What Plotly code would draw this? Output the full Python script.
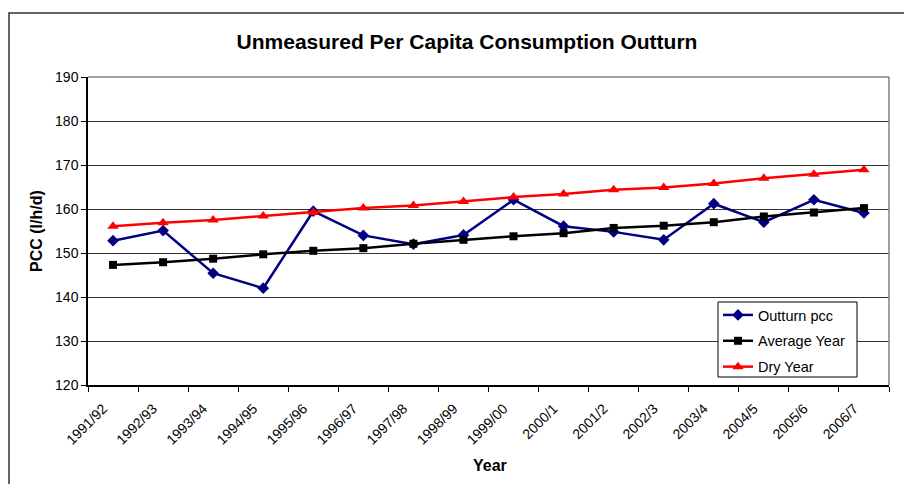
import plotly.graph_objects as go

years = ["1991/92", "1992/93", "1993/94", "1994/95", "1995/96", "1996/97", "1997/98",
         "1998/99", "1999/00", "2000/1", "2001/2", "2002/3", "2003/4", "2004/5",
         "2005/6", "2006/7"]
outturn = [152.8, 155.1, 145.4, 142.0, 159.5, 154.0, 152.0, 154.1, 162.1, 156.1,
           154.8, 153.0, 161.2, 157.0, 162.1, 159.1]
average_year = [147.3, 147.9, 148.7, 149.7, 150.5, 151.1, 152.1, 153.0, 153.8, 154.5,
                155.7, 156.2, 157.0, 158.3, 159.2, 160.2]
dry_year = [156.1, 156.9, 157.5, 158.4, 159.2, 160.2, 160.8, 161.7, 162.7, 163.4,
            164.4, 164.9, 165.8, 167.0, 167.9, 168.9]
y_ticks = [120, 130, 140, 150, 160, 170, 180, 190]

FONT = "Liberation Sans, Arial, sans-serif"
L, R, T, B = 88, 15, 77, 99
PW, PH = 904 - L - R, 484 - T - B


def px_x(px):
    return (px - L) / PW


def px_y(py):
    return (484 - B - py) / PH


fig = go.Figure()
fig.add_trace(go.Scatter(x=years, y=outturn, name="Outturn pcc", mode="lines+markers",
                         legendgroup="a",
                         line=dict(color="#000080", width=2.5),
                         marker=dict(symbol="diamond", size=9, color="#000080")))
fig.add_trace(go.Scatter(x=years, y=average_year, name="Average Year", mode="lines+markers",
                         legendgroup="b",
                         line=dict(color="#000000", width=2.5),
                         marker=dict(symbol="square", size=8, color="#000000")))
fig.add_trace(go.Scatter(x=years, y=dry_year, name="Dry Year", mode="lines+markers",
                         legendgroup="c",
                         line=dict(color="#FF0000", width=2.5),
                         marker=dict(symbol="triangle-up", size=10, color="#FF0000")))

fig.update_layout(
    width=904, height=484,
    margin=dict(l=L, r=R, t=T, b=B, autoexpand=False),
    paper_bgcolor="white", plot_bgcolor="white",
    font=dict(family=FONT, color="black"),
    title=dict(text="<b>Unmeasured Per Capita Consumption Outturn</b>",
               font=dict(size=21, family=FONT, color="black"),
               x=px_x(467), xref="paper", xanchor="center", y=1 - 42 / 484, yanchor="middle"),
    showlegend=True,
    legend=dict(x=px_x(718), y=px_y(299), xanchor="left", yanchor="top",
                bgcolor="rgba(0,0,0,0)", borderwidth=0,
                font=dict(size=14.5, family=FONT, color="black"),
                tracegroupgap=4, itemwidth=30),
    xaxis=dict(type="category", categoryorder="array", categoryarray=years,
               range=[-0.5, len(years) - 0.5], automargin=False,
               tickangle=-45, tickfont=dict(size=14, family=FONT),
               ticks="outside", ticklen=5, tickcolor="black", tickson="boundaries",
               ticklabelstandoff=8, ticklabelshift=-10,
               showline=True, linecolor="black", linewidth=2, mirror=False,
               showgrid=False),
    yaxis=dict(range=[120, 190], tickvals=y_ticks, automargin=False,
               tickfont=dict(size=14, family=FONT),
               ticks="outside", ticklen=5, tickcolor="black",
               showline=True, linecolor="black", linewidth=1.5,
               showgrid=True, gridcolor="#333333", gridwidth=1, zeroline=False),
    annotations=[
        dict(text="<b>Year</b>", xref="paper", yref="paper", x=px_x(490), y=px_y(465),
             xanchor="center", yanchor="middle", showarrow=False,
             font=dict(size=16, family=FONT, color="black")),
        dict(text="<b>PCC (l/h/d)</b>", xref="paper", yref="paper", x=px_x(36), y=px_y(231),
             xanchor="center", yanchor="middle", showarrow=False, textangle=-90,
             font=dict(size=16, family=FONT, color="black")),
    ],
)

# plot-area border on top and right (gray)
fig.add_shape(type="line", xref="paper", yref="paper", x0=0, x1=1, y0=1, y1=1,
              line=dict(color="#808080", width=1.5))
fig.add_shape(type="line", xref="paper", yref="paper", x0=1, x1=1, y0=0, y1=1,
              line=dict(color="#808080", width=1.5))
# legend box
fig.add_shape(type="rect", xref="paper", yref="paper",
              x0=px_x(718), x1=px_x(857), y0=px_y(377), y1=px_y(302),
              line=dict(color="black", width=1), fillcolor="white", layer="above")
# outer chart frame
fig.add_shape(type="rect", xref="paper", yref="paper",
              x0=px_x(9), x1=1.05, y0=px_y(490), y1=px_y(13),
              line=dict(color="#333333", width=1.5), layer="below")

fig.write_html("out.html")
